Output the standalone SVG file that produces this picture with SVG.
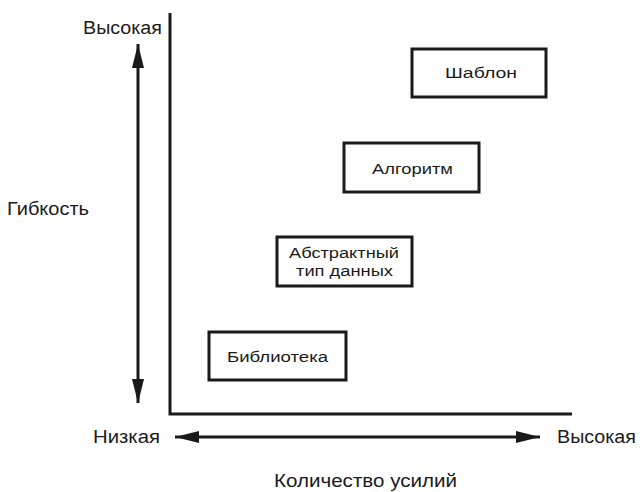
<svg xmlns="http://www.w3.org/2000/svg" width="640" height="492" viewBox="0 0 640 492">
  <style>
    .box { fill: #ffffff; stroke: #1a1a1a; stroke-width: 3; }
    .axis { stroke: #1a1a1a; stroke-width: 3; fill: none; }
    .arrow { stroke: #1a1a1a; stroke-width: 3; fill: none; }
    .lbl { font-family: "Liberation Sans", Arial, sans-serif; font-size: 18px; fill: #1a1a1a; }
    .node { font-family: "Liberation Sans", Arial, sans-serif; font-size: 15.5px; fill: #1a1a1a; text-anchor: middle; }
  </style>
  <defs>
    <marker id="head" viewBox="0 0 24 12" refX="24" refY="6" markerWidth="24" markerHeight="12" markerUnits="userSpaceOnUse" orient="auto-start-reverse">
      <path d="M0,0 L24,6 L0,12 Z" fill="#1a1a1a"/>
    </marker>
  </defs>
  <rect width="640" height="492" fill="#ffffff"/>

  <!-- axes and the two scale arrows -->
  <g id="connectors">
    <path class="axis" d="M170,13 V414 H572"/>
    <line class="arrow" x1="138" y1="44" x2="138" y2="403" marker-start="url(#head)" marker-end="url(#head)"/>
    <line class="arrow" x1="175" y1="437" x2="540" y2="437" marker-start="url(#head)" marker-end="url(#head)"/>
  </g>

  <!-- axis labels -->
  <g id="labels">
    <text class="lbl" x="83" y="34" textLength="79" lengthAdjust="spacingAndGlyphs">Высокая</text>
    <text class="lbl" x="7" y="215" textLength="82" lengthAdjust="spacingAndGlyphs">Гибкость</text>
    <text class="lbl" x="93" y="443" textLength="67" lengthAdjust="spacingAndGlyphs">Низкая</text>
    <text class="lbl" x="557" y="443" textLength="79" lengthAdjust="spacingAndGlyphs">Высокая</text>
    <text class="lbl" x="274" y="487" textLength="183" lengthAdjust="spacingAndGlyphs">Количество усилий</text>
  </g>

  <g id="template">
    <rect class="box" x="412" y="49" width="134" height="48"/>
    <text class="node" x="481" y="78" textLength="72" lengthAdjust="spacingAndGlyphs">Шаблон</text>
  </g>

  <g id="algorithm">
    <rect class="box" x="344" y="143" width="135" height="49"/>
    <text class="node" x="412.5" y="174" textLength="81" lengthAdjust="spacingAndGlyphs">Алгоритм</text>
  </g>

  <g id="adt">
    <rect class="box" x="277" y="237" width="135" height="49"/>
    <text class="node" x="344" y="258" textLength="110" lengthAdjust="spacingAndGlyphs">Абстрактный</text>
    <text class="node" x="344.5" y="276" textLength="97" lengthAdjust="spacingAndGlyphs">тип данных</text>
  </g>

  <g id="library">
    <rect class="box" x="209" y="332" width="137" height="48"/>
    <text class="node" x="277.5" y="362" textLength="101" lengthAdjust="spacingAndGlyphs">Библиотека</text>
  </g>
</svg>
